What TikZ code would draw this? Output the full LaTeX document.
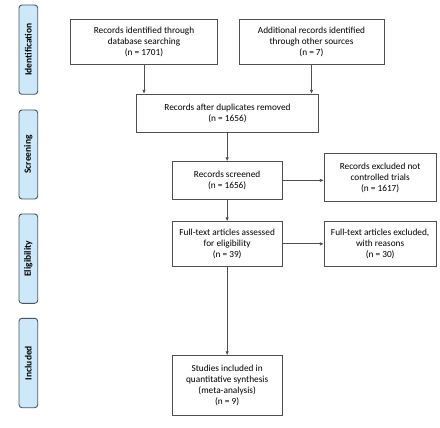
\documentclass[tikz,border=0pt]{standalone}
\usepackage{fontspec}
\setmainfont{Carlito}
\usetikzlibrary{arrows.meta}
\definecolor{sidefill}{HTML}{CDE8F8}
\definecolor{sideline}{HTML}{4A5563}
\definecolor{boxline}{HTML}{505050}
\tikzset{
  x=1pt,y=-1pt,
  flowbox/.style={draw=boxline,line width=0.8pt,fill=white,align=center,inner sep=0pt,
    font=\fontsize{9.3}{11}\selectfont},
  sidebox/.style={draw=sideline,line width=0.9pt,fill=sidefill,rounded corners=3pt},
  sidetext/.style={rotate=90,font=\fontsize{9.5}{11}\selectfont\bfseries},
  arr/.style={draw=boxline,line width=0.8pt,-{Latex[length=4pt,width=3.5pt]}}
}
\newcommand{\flow}[6]{% name, x1,y1,x2,y2,text
  \node[flowbox,minimum width={#4-#2},minimum height={#5-#3}] (#1) at ({(#2+#4)/2},{(#3+#5)/2}) {#6};}
\newcommand{\side}[6]{%
  \draw[sidebox] (#2,#3) rectangle (#4,#5);
  \node[sidetext] (#1) at ({(#2+#4)/2},{(#3+#5)/2}) {#6};}
\begin{document}
\begin{tikzpicture}
\useasboundingbox[fill=white] (0,0) rectangle (440,428);
\side{sid}{19}{5}{37.7}{94.3}{Identification}
\side{sscr}{19}{110}{37.7}{199}{Screening}
\side{selig}{19}{214}{37.7}{303.3}{Eligibility}
\side{sinc}{19}{318.3}{37.7}{407.7}{Included}
\flow{a}{70.7}{19.3}{217.3}{64.3}{Records identified through\\database searching\\(n = 1701)}
\flow{b}{239}{19.3}{384}{64.3}{Additional records identified\\through other sources\\(n = 7)}
\flow{c}{136.7}{94.3}{318.3}{132}{Records after duplicates removed\\(n = 1656)}
\flow{d}{172}{161.7}{282.3}{199}{Records screened\\(n = 1656)}
\flow{e}{324.3}{153.7}{436}{201.3}{Records excluded not\\controlled trials\\(n = 1617)}
\flow{f}{172}{221.7}{282.3}{266}{Full-text articles assessed\\for eligibility\\(n = 39)}
\flow{g}{324.3}{221.7}{436}{266}{Full-text articles excluded,\\with reasons\\(n = 30)}
\flow{h}{172}{355.7}{282.3}{415.3}{Studies included in\\quantitative synthesis\\(meta-analysis)\\(n = 9)}
\draw[arr] (a.south) -- (a.south |- c.north);
\draw[arr] (b.south) -- (b.south |- c.north);
\draw[arr] (c.south -| d.north) -- (d.north);
\draw[arr] (d.east) -- (d.east -| e.west);
\draw[arr] (d.south) -- (f.north);
\draw[arr] (f.east) -- (f.east -| g.west);
\draw[arr] (f.south) -- (h.north);
\end{tikzpicture}
\end{document}
